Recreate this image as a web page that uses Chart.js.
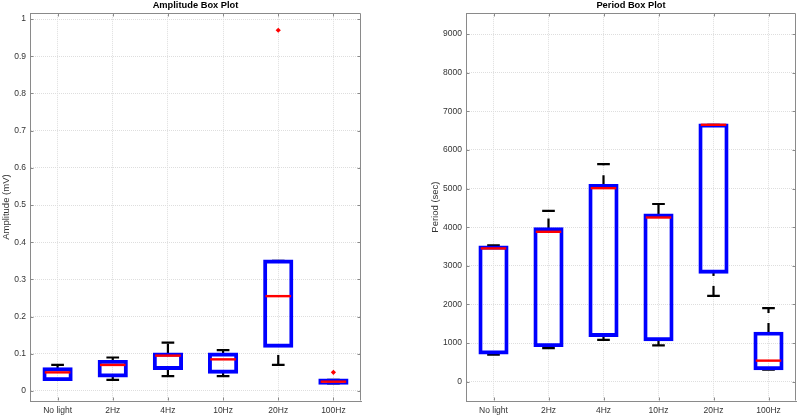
<!DOCTYPE html>
<html><head><meta charset="utf-8">
<script src="https://cdn.jsdelivr.net/npm/chart.js@4.4.1/dist/chart.umd.min.js"></script>
<style>
html,body{margin:0;padding:0;background:#fff;width:800px;height:418px;overflow:hidden}
.p{position:absolute;top:0;width:400px;height:418px}
</style></head><body>
<div class="p" style="left:0"><canvas id="amp" width="400" height="418"></canvas></div>
<div class="p" style="left:400px"><canvas id="per" width="400" height="418"></canvas></div>
<script>
// ---------- data ----------
const categories = ['No light', '2Hz', '4Hz', '10Hz', '20Hz', '100Hz'];

const ampLower    = [0.03, 0.03, 0.04, 0.04, 0.07, 0.02];
const ampQ1       = [0.03, 0.04, 0.06, 0.05, 0.12, 0.02];
const ampMedian   = [0.05, 0.07, 0.095, 0.085, 0.255, 0.025];
const ampQ3       = [0.06, 0.08, 0.10, 0.10, 0.35, 0.03];
const ampUpper    = [0.07, 0.09, 0.13, 0.11, 0.35, 0.03];
const ampOutliers = [null, null, null, null, 0.97, 0.05];
const ampTicks    = [0, 0.1, 0.2, 0.3, 0.4, 0.5, 0.6, 0.7, 0.8, 0.9, 1];

const perLower    = [700, 870, 1080, 940, 2220, 310];
const perQ1       = [740, 930, 1190, 1080, 2830, 330];
const perMedian   = [3450, 3880, 5010, 4250, 6650, 545];
const perQ3       = [3490, 3965, 5085, 4320, 6650, 1260];
const perUpper    = [3530, 4420, 5630, 4600, 6650, 1905];
const perOutliers = [null, null, null, null, null, null];
const perTicks    = [0, 1000, 2000, 3000, 4000, 5000, 6000, 7000, 8000, 9000];

// ---------- styling ----------
const FONT = "'Liberation Sans', Arial, Helvetica, sans-serif";
const FRAME = '#8a8a8a';
const TXT = '#333333';
const BLUE = '#0000ff', RED = '#ff0000';
const WHISKER_DASH = [10, 10];

function boxPlugin(lo, q1, med, q3, hi) {
  return {
    id: 'boxparts',
    afterLayout(chart) {
      const a = chart.chartArea;
      if (chart.titleBlock) { chart.titleBlock.left = a.left; chart.titleBlock.right = a.right; }
    },
    beforeDatasetsDraw(chart) {
      const {ctx, chartArea: a, scales: {x, y}} = chart;
      ctx.save();
      ctx.strokeStyle = FRAME; ctx.lineWidth = 1; ctx.setLineDash([]);
      const L = Math.round(a.left) + 0.5, R = Math.round(a.right) - 0.5;
      const T = Math.round(a.top) + 0.5, B = Math.round(a.bottom) - 0.5;
      ctx.beginPath();
      ctx.moveTo(L, T); ctx.lineTo(R, T); ctx.lineTo(R, B);
      x.ticks.forEach((t, i) => {
        const px = Math.round(x.getPixelForTick(i)) + 0.5;
        ctx.moveTo(px, B); ctx.lineTo(px, B - 3);
        ctx.moveTo(px, T); ctx.lineTo(px, T + 3);
      });
      y.ticks.forEach((t) => {
        const py = Math.round(y.getPixelForValue(t.value)) + 0.5;
        ctx.moveTo(L, py); ctx.lineTo(L + 3, py);
        ctx.moveTo(R, py); ctx.lineTo(R - 3, py);
      });
      ctx.stroke();
      const meta = chart.getDatasetMeta(0);
      categories.forEach((c, i) => {
        const cx = x.getPixelForValue(i);
        const bw = meta.data[i].width;
        const cap = bw * 0.23;
        ctx.strokeStyle = '#000'; ctx.lineWidth = 2.2;
        ctx.setLineDash(WHISKER_DASH);
        ctx.beginPath();
        if (hi[i] > q3[i]) { ctx.moveTo(cx, y.getPixelForValue(q3[i])); ctx.lineTo(cx, y.getPixelForValue(hi[i])); }
        ctx.stroke();
        ctx.beginPath();
        if (lo[i] < q1[i]) { ctx.moveTo(cx, y.getPixelForValue(lo[i])); ctx.lineTo(cx, y.getPixelForValue(q1[i])); }
        ctx.stroke();
        ctx.setLineDash([]);
        ctx.beginPath();
        const yh = y.getPixelForValue(hi[i]), yl = y.getPixelForValue(lo[i]);
        ctx.moveTo(cx - cap, yh); ctx.lineTo(cx + cap, yh);
        ctx.moveTo(cx - cap, yl); ctx.lineTo(cx + cap, yl);
        ctx.stroke();
      });
      ctx.restore();
    },
    afterDatasetsDraw(chart) {
      const {ctx, scales: {x, y}} = chart;
      const meta = chart.getDatasetMeta(0);
      ctx.save();
      ctx.strokeStyle = RED; ctx.lineWidth = 2.4; ctx.setLineDash([]);
      categories.forEach((c, i) => {
        const cx = x.getPixelForValue(i);
        const hw = meta.data[i].width / 2 - 1;
        const py = y.getPixelForValue(med[i]);
        ctx.beginPath(); ctx.moveTo(cx - hw, py); ctx.lineTo(cx + hw, py); ctx.stroke();
      });
      ctx.restore();
    }
  };
}

function makeChart(id, cfg) {
  const boxes = categories.map((c, i) => [cfg.q1[i], cfg.q3[i]]);
  return new Chart(document.getElementById(id), {
    type: 'bar',
    data: {
      labels: categories,
      datasets: [
        {
          type: 'bar', data: boxes,
          backgroundColor: 'rgba(0,0,0,0)', borderColor: BLUE,
          borderWidth: 1.3, inflateAmount: 1.3, borderSkipped: false,
          barPercentage: 0.5, categoryPercentage: 1
        },
        {
          type: 'line', data: cfg.outliers, showLine: false,
          pointStyle: 'rectRot', pointRadius: 2.6, pointBackgroundColor: RED,
          pointBorderColor: RED, pointBorderWidth: 0
        }
      ]
    },
    options: {
      responsive: false, animation: false, devicePixelRatio: 1,
      layout: {padding: cfg.padding},
      plugins: {
        legend: {display: false}, tooltip: {enabled: false},
        title: {display: true, text: cfg.title, color: '#000',
          font: {family: FONT, size: 9.3, weight: 'bold'}, padding: {top: 0, bottom: 2}}
      },
      scales: {
        x: {
          type: 'category', offset: true,
          grid: {offset: false, color: '#dedede', lineWidth: 1, drawTicks: false},
          border: {color: FRAME, width: 1, dash: [1, 1]},
          ticks: {color: TXT, font: {family: FONT, size: 8.5}, padding: 5, autoSkip: false, maxRotation: 0},
          afterFit(s) { s.height = 17; }
        },
        y: {
          type: 'linear', min: cfg.min, max: cfg.max,
          grid: {color: '#dedede', lineWidth: 1, drawTicks: false},
          border: {color: FRAME, width: 1, dash: [1, 1]},
          ticks: {color: TXT, font: {family: FONT, size: 8.5}, padding: 4,
            callback: (v) => String(v)},
          afterBuildTicks(s) { s.ticks = cfg.ticks.map(v => ({value: v})); },
          title: {display: true, text: cfg.ytitle, color: TXT,
            font: {family: FONT, size: 9.5}, padding: {top: cfg.ytitlePad, bottom: 0}},
          afterFit(s) { s.width = cfg.yWidth; }
        }
      }
    },
    plugins: [boxPlugin(cfg.lo, cfg.q1, cfg.med, cfg.q3, cfg.hi)]
  });
}

makeChart('amp', {
  title: 'Amplitude Box Plot', ytitle: 'Amplitude (mV)',
  lo: ampLower, q1: ampQ1, med: ampMedian, q3: ampQ3, hi: ampUpper,
  outliers: ampOutliers, ticks: ampTicks, min: -0.027, max: 1.016,
  padding: {left: 0, right: 39, top: 0, bottom: 0}, yWidth: 30, ytitlePad: 0.5
});
makeChart('per', {
  title: 'Period Box Plot', ytitle: 'Period (sec)',
  lo: perLower, q1: perQ1, med: perMedian, q3: perQ3, hi: perUpper,
  outliers: perOutliers, ticks: perTicks, min: -500, max: 9540,
  padding: {left: 0, right: 3, top: 0, bottom: 0}, yWidth: 66, ytitlePad: 29.3
});
</script>
</body></html>
